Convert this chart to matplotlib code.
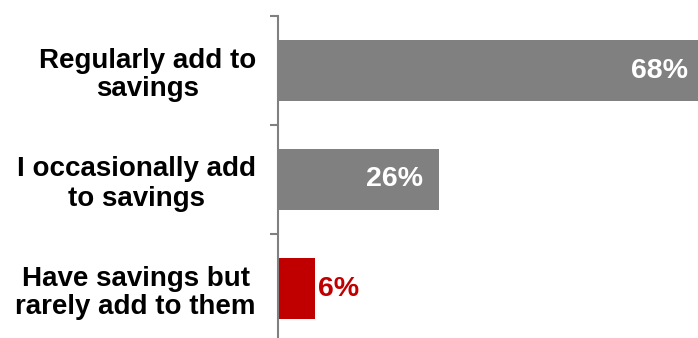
import matplotlib
matplotlib.use("Agg")
import matplotlib.pyplot as plt
from matplotlib.transforms import offset_copy

categories = ["Regularly add to\nsavings",
              "I occasionally add\nto savings",
              "Have savings but\nrarely add to them"]
values = [68, 26, 6]
value_labels = ["68%", "26%", "6%"]

gray = "#808080"
red = "#C00000"
bar_colors = [gray, gray, red]

plt.rcParams["font.family"] = ["Liberation Sans", "DejaVu Sans"]

fig = plt.figure(figsize=(6.98, 3.38), dpi=100)
ax = fig.add_axes([278 / 698, -5 / 338, 420 / 698, 327 / 338])

ypos = list(range(len(categories)))
ax.barh(ypos, values, height=0.56, color=bar_colors)

ax.set_xlim(0, 68)
ax.set_ylim(2.5, -0.5)

for s in ["top", "right", "bottom"]:
    ax.spines[s].set_visible(False)
ax.spines["left"].set_color(gray)
ax.spines["left"].set_linewidth(1.5)
ax.set_xticks([])

# labels at bar centres, small tick marks between the categories
ax.set_yticks(ypos)
ax.set_yticklabels(categories, fontsize=20, fontweight="bold",
                   multialignment="center", linespacing=1.15)
ax.tick_params(axis="y", which="major", length=0, pad=16)
ax.set_yticks([-0.5, 0.5, 1.5, 2.5], minor=True)
ax.tick_params(axis="y", which="minor", length=6, width=1.5, color=gray)

# value labels: inside the bar end for the gray ones, outside for the red one
for i, (v, lab) in enumerate(zip(values, value_labels)):
    if bar_colors[i] == red:
        tr = offset_copy(ax.transData, fig=fig, x=3, y=0, units="dots")
        ax.text(v, i, lab, transform=tr, ha="left", va="center",
                fontsize=20.5, fontweight="bold", color=red)
    else:
        pad = -10 if i == 0 else -16
        tr = offset_copy(ax.transData, fig=fig, x=pad, y=0, units="dots")
        ax.text(v, i, lab, transform=tr, ha="right", va="center",
                fontsize=20.5, fontweight="bold", color="white")

fig.savefig("out.png", dpi=100)
